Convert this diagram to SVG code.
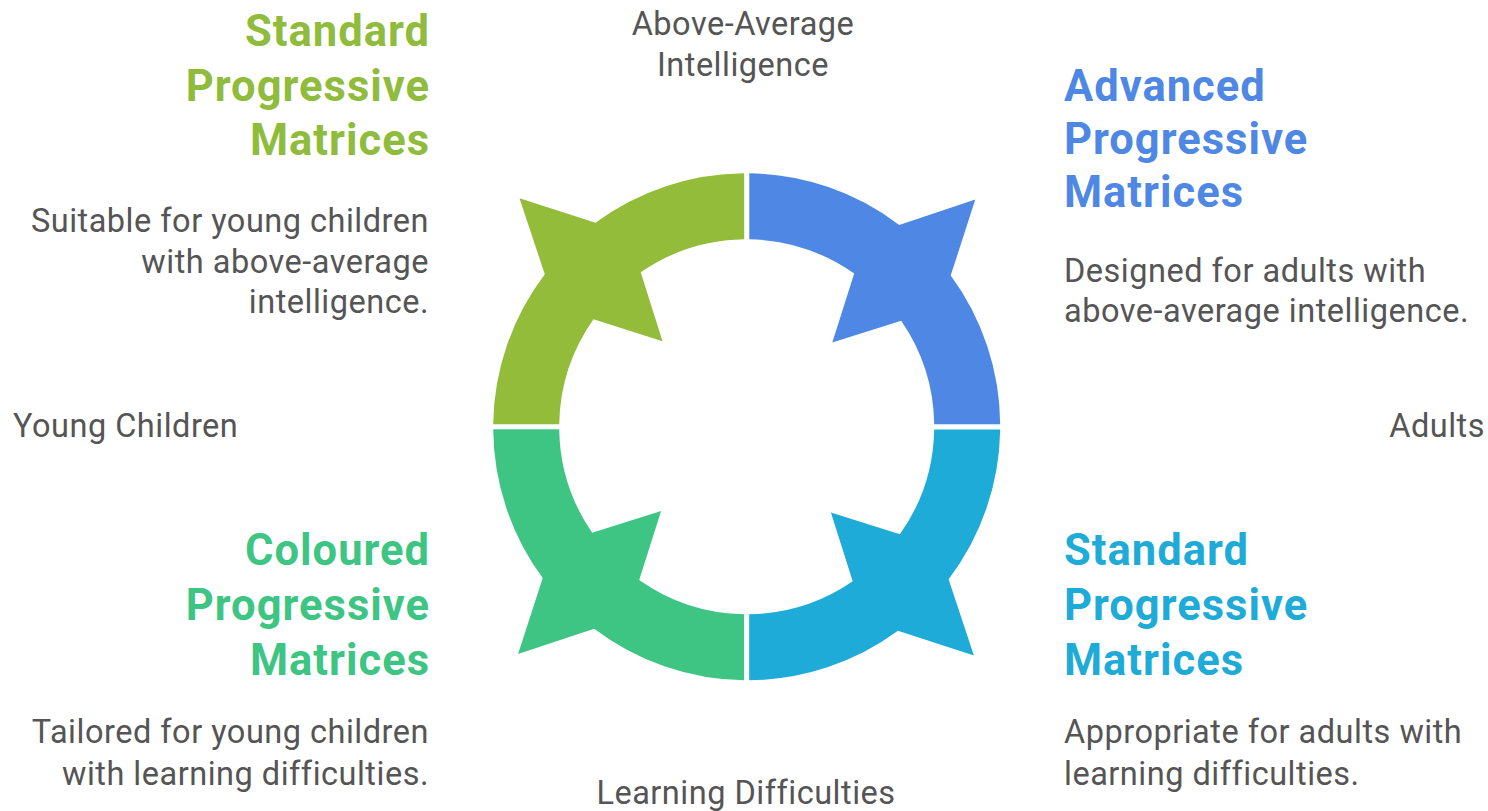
<svg xmlns="http://www.w3.org/2000/svg" width="1488" height="811" viewBox="0 0 1488 811">
<style>
.t{font-family:Roboto,"Liberation Sans",sans-serif;font-weight:700;font-size:43.5px;letter-spacing:1px}
.d{font-family:Roboto,"Liberation Sans",sans-serif;font-size:32.5px;letter-spacing:0.5px;fill:#555555}
.e{text-anchor:end}
.m{text-anchor:middle}
</style>
<rect width="1488" height="811" fill="#ffffff"/>
<g id="ring">
<path id="q-green" fill="#92BC3A" d="M744.2,173.3 A253.5,253.5 0 0 0 595.5,222.8 L519.5,198.2 L544.8,274.3 A253.5,253.5 0 0 0 493.2,424.2 L559.2,424.2 A187.5,187.5 0 0 1 593.5,319.3 L662.5,341.2 L640.7,272.3 A187.5,187.5 0 0 1 744.2,239.3 Z"/>
<path id="q-blue" fill="#4E88E4" d="M744.2,173.3 A253.5,253.5 0 0 0 595.5,222.8 L519.5,198.2 L544.8,274.3 A253.5,253.5 0 0 0 493.2,424.2 L559.2,424.2 A187.5,187.5 0 0 1 593.5,319.3 L662.5,341.2 L640.7,272.3 A187.5,187.5 0 0 1 744.2,239.3 Z" transform="rotate(90 746.7 426.8)"/>
<path id="q-cyan" fill="#1FABD8" d="M744.2,173.3 A253.5,253.5 0 0 0 595.5,222.8 L519.5,198.2 L544.8,274.3 A253.5,253.5 0 0 0 493.2,424.2 L559.2,424.2 A187.5,187.5 0 0 1 593.5,319.3 L662.5,341.2 L640.7,272.3 A187.5,187.5 0 0 1 744.2,239.3 Z" transform="rotate(180 746.7 426.8)"/>
<path id="q-emerald" fill="#3EC584" d="M744.2,173.3 A253.5,253.5 0 0 0 595.5,222.8 L519.5,198.2 L544.8,274.3 A253.5,253.5 0 0 0 493.2,424.2 L559.2,424.2 A187.5,187.5 0 0 1 593.5,319.3 L662.5,341.2 L640.7,272.3 A187.5,187.5 0 0 1 744.2,239.3 Z" transform="rotate(270 746.7 426.8)"/>
</g>
<g id="node-spm-young">
<text class="t e" fill="#8FBC3D"><tspan x="430" y="46">Standard</tspan><tspan x="430" y="101">Progressive</tspan><tspan x="430" y="155">Matrices</tspan></text>
<text class="d e"><tspan x="429" y="232">Suitable for young children</tspan><tspan x="429" y="273">with above-average</tspan><tspan x="429" y="313">intelligence.</tspan></text>
</g>
<g id="node-apm">
<text class="t" fill="#4E88E4"><tspan x="1064" y="101">Advanced</tspan><tspan x="1064" y="154">Progressive</tspan><tspan x="1064" y="207">Matrices</tspan></text>
<text class="d"><tspan x="1064" y="282">Designed for adults with</tspan><tspan x="1064" y="322">above-average intelligence.</tspan></text>
</g>
<g id="node-cpm">
<text class="t e" fill="#3EC584"><tspan x="430" y="565">Coloured</tspan><tspan x="430" y="620">Progressive</tspan><tspan x="430" y="675">Matrices</tspan></text>
<text class="d e"><tspan x="429" y="743">Tailored for young children</tspan><tspan x="429" y="785">with learning difficulties.</tspan></text>
</g>
<g id="node-spm-adult">
<text class="t" fill="#1FABD8"><tspan x="1064" y="565">Standard</tspan><tspan x="1064" y="620">Progressive</tspan><tspan x="1064" y="675">Matrices</tspan></text>
<text class="d"><tspan x="1064" y="743">Appropriate for adults with</tspan><tspan x="1064" y="785">learning difficulties.</tspan></text>
</g>
<g id="axis-labels">
<text class="d m"><tspan x="743" y="35">Above-Average</tspan><tspan x="743" y="76">Intelligence</tspan></text>
<text class="d" x="13" y="437">Young Children</text>
<text class="d e" x="1485" y="437">Adults</text>
<text class="d m" x="746" y="804">Learning Difficulties</text>
</g>
<g id="connectors"></g>
</svg>
